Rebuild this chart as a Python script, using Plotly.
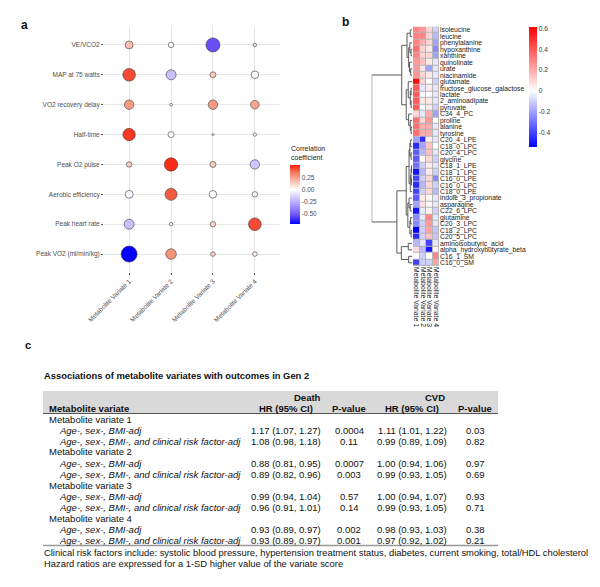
import plotly.graph_objects as go

# page body adds an 8px offset; figure is sized so that the visible window is 600x587
OFF = 8
W, H = 600 - OFF, 587 - OFF
FONT = "Liberation Sans, Arial, sans-serif"


def fx(px):
    return (px - OFF) / W


def fy(py):
    return 1 - (py - OFF) / H


# ---------------- Panel a data ----------------
outcomes = ["VE/VCO2", "MAP at 75 watts", "VO2 recovery delay", "Half-time",
            "Peak O2 pulse", "Aerobic efficiency", "Peak heart rate", "Peak VO2 (ml/min/kg)"]
variates_a = ["Metabolite Variate 1", "Metabolite Variate 2",
              "Metabolite Variate 3", "Metabolite Variate 4"]
corr_mv1 = [0.18, 0.45, 0.28, 0.48, 0.15, -0.02, -0.20, -0.73]
corr_mv2 = [0.02, -0.20, 0.02, 0.00, 0.50, 0.42, 0.02, 0.30]
corr_mv3 = [-0.55, 0.15, 0.28, 0.00, 0.15, 0.00, 0.12, 0.12]
corr_mv4 = [0.08, 0.00, 0.25, 0.03, -0.18, 0.03, 0.45, 0.05]
signif_mv1 = [2.00, 3.15, 2.35, 3.10, 1.35, 2.00, 2.50, 4.00]
signif_mv2 = [1.40, 2.50, 0.65, 1.50, 3.35, 3.00, 0.85, 2.65]
signif_mv3 = [3.50, 1.50, 2.35, 0.50, 1.50, 1.90, 1.35, 1.15]
signif_mv4 = [0.85, 1.90, 2.15, 0.85, 2.35, 1.35, 3.15, 1.15]

# ---------------- Panel b data ----------------
metabolites = ["isoleucine", "leucine", "phenylalanine", "hypoxanthine", "xanthine",
               "quinolinate", "urate", "niacinamide", "glutamate",
               "fructose_glucose_galactose", "lactate", "2_aminoadipate", "pyruvate",
               "C34_4_PC", "proline", "alanine", "tyrosine", "C20_4_LPE", "C18_0_LPC",
               "C20_4_LPC", "glycine", "C18_1_LPE", "C18_1_LPC", "C16_0_LPE", "C16_0_LPC",
               "C18_0_LPE", "indole_3_propionate", "asparagine", "C22_6_LPC", "glutamine",
               "C20_3_LPC", "C18_2_LPC", "C20_5_LPC", "aminoisobutyric_acid",
               "alpha_hydroxybutyrate_beta", "C16_1_SM", "C16_0_SM"]
variates_b = ["Metabolite Variate 1", "Metabolite Variate 2",
              "Metabolite Variate 3", "Metabolite Variate 4"]
hm_mv1 = [0.30, 0.30, 0.30, 0.35, 0.30, 0.25, 0.25, 0.25, 0.60, 0.40, 0.40, 0.40, 0.40,
          0.10, 0.35, 0.35, 0.35, -0.20, -0.45, -0.35, -0.35, -0.30, -0.50, -0.40, -0.45,
          -0.40, -0.35, -0.20, -0.50, -0.25, -0.25, -0.55, -0.45, -0.15, 0.08, 0.00, -0.40]
hm_mv2 = [0.25, 0.30, 0.20, 0.10, 0.10, 0.15, 0.05, 0.10, 0.10, -0.05, 0.00, 0.05, 0.00,
          -0.05, 0.10, 0.20, 0.20, -0.45, -0.20, -0.15, 0.00, -0.10, -0.15, -0.10, -0.15,
          -0.10, 0.05, 0.08, -0.05, -0.05, -0.10, -0.10, -0.10, -0.05, -0.15, -0.10, -0.10]
hm_mv3 = [0.10, 0.10, 0.10, 0.05, 0.10, 0.05, -0.20, 0.05, 0.00, 0.05, 0.00, 0.05, 0.05,
          0.20, 0.25, 0.20, 0.20, 0.05, 0.15, 0.15, 0.10, 0.05, 0.05, 0.10, 0.10,
          0.10, 0.02, 0.02, 0.02, 0.30, 0.25, 0.22, 0.15, -0.40, -0.50, 0.00, -0.10]
hm_mv4 = [-0.10, -0.15, -0.20, -0.25, -0.20, -0.05, -0.05, -0.05, -0.10, -0.05, -0.05, -0.05,
          -0.10, -0.20, 0.00, -0.05, -0.05, -0.05, 0.00, -0.05, -0.10, -0.05, -0.10, -0.25,
          -0.10, -0.15, -0.05, -0.05, -0.10, -0.05, -0.05, -0.12, -0.12, -0.05, 0.03, 0.30, 0.22]

# row dendrogram (leaf = row index, node = (left, right, height))
tree_top = (
    ((0, 1, 0.05), ((2, (3, 4, 0.03), 0.06), (5, (6, 7, 0.04), 0.07), 0.09), 0.13),
    ((8, ((9, 10, 0.03), (11, 12, 0.03), 0.05), 0.10),
     (13, (14, (15, 16, 0.03), 0.05), 0.09), 0.15),
    0.26)
tree_bottom = (
    ((((17, 18, 0.04), (19, 20, 0.03), 0.06),
      (((21, 22, 0.02), (23, 24, 0.02), 0.03), 25, 0.05), 0.08),
     ((26, (27, 28, 0.05), 0.08), ((29, 30, 0.04), (31, 32, 0.03), 0.06), 0.11),
     0.15),
    ((33, 34, 0.10), (35, 36, 0.09), 0.27),
    0.38)
tree_root = (tree_top, tree_bottom, 1.0)

# ---------------- Panel c data ----------------
table_title = "Associations of metabolite variates with outcomes in Gen 2"
variate_rows = ["Metabolite variate 1", "Metabolite variate 2",
                "Metabolite variate 3", "Metabolite variate 4"]
model_rows = ["Age-, sex-, BMI-adj", "Age-, sex-, BMI-, and clinical risk factor-adj"]
death_hr = [["1.17 (1.07, 1.27)", "1.08 (0.98, 1.18)"],
            ["0.88 (0.81, 0.95)", "0.89 (0.82, 0.96)"],
            ["0.99 (0.94, 1.04)", "0.96 (0.91, 1.01)"],
            ["0.93 (0.89, 0.97)", "0.93 (0.89, 0.97)"]]
death_p = [["0.0004", "0.11"], ["0.0007", "0.003"], ["0.57", "0.14"], ["0.002", "0.001"]]
cvd_hr = [["1.11 (1.01, 1.22)", "0.99 (0.89, 1.09)"],
          ["1.00 (0.94, 1.06)", "0.99 (0.93, 1.05)"],
          ["1.00 (0.94, 1.07)", "0.99 (0.93, 1.05)"],
          ["0.98 (0.93, 1.03)", "0.97 (0.92, 1.02)"]]
cvd_p = [["0.03", "0.82"], ["0.97", "0.69"], ["0.93", "0.71"], ["0.38", "0.21"]]
footnotes = ["Clinical risk factors include: systolic blood pressure, hypertension treatment "
             "status, diabetes, current smoking, total/HDL cholesterol",
             "Hazard ratios are expressed for a 1-SD higher value of the variate score"]

fig = go.Figure()

# ---------------- Panel a: bubble chart ----------------
corr_cols = [corr_mv1, corr_mv2, corr_mv3, corr_mv4]
sig_cols = [signif_mv1, signif_mv2, signif_mv3, signif_mv4]
bx, by, bc, bs = [], [], [], []
for ci in range(len(variates_a)):
    for ri in range(len(outcomes)):
        bx.append(ci)
        by.append(ri)
        bc.append(corr_cols[ci][ri])
        bs.append(sig_cols[ci][ri])
fig.add_trace(go.Scatter(
    x=bx, y=by, mode="markers", xaxis="x", yaxis="y",
    marker=dict(color=bc, coloraxis="coloraxis", size=[4 * s for s in bs],
                sizemode="diameter", opacity=1,
                line=dict(color="#3a3a3a", width=0.6)),
    hoverinfo="skip", cliponaxis=False))

# ---------------- Panel b: heatmap ----------------
hm_cols = [hm_mv1, hm_mv2, hm_mv3, hm_mv4]
z = [[hm_cols[c][r] for c in range(4)] for r in range(len(metabolites))]
fig.add_trace(go.Heatmap(
    z=z, x=list(range(4)), y=list(range(len(metabolites))),
    xaxis="x2", yaxis="y2", coloraxis="coloraxis2", xgap=1, ygap=1,
    hoverinfo="skip"))

# dendrogram
seg_x, seg_y = [], []


def walk(node):
    if isinstance(node, int):
        return float(node), 0.0
    left, right, h = node
    yl, hl = walk(left)
    yr, hr = walk(right)
    seg_x.extend([hl, h, h, hr, None])
    seg_y.extend([yl, yl, yr, yr, None])
    return (yl + yr) / 2, h


walk(tree_root)
fig.add_trace(go.Scatter(x=seg_x, y=seg_y, mode="lines", xaxis="x3", yaxis="y3",
                         line=dict(color="#4a4a4a", width=0.9), hoverinfo="skip",
                         cliponaxis=False))

# ---------------- colour scales ----------------
amin, amax = -0.73, 0.53
wa = -amin / (amax - amin)
blue_side = [(1.0, "#0000ff"), (0.75, "#6a4ff6"), (0.5, "#9f8cfb"), (0.25, "#d0c6fe"), (0.0, "#ffffff")]
red_side = [(0.25, "#fcd2c6"), (0.5, "#f7a08a"), (0.75, "#f06a4f"), (1.0, "#ff1a0a")]
cs_a = [[wa * (1 - t), c] for t, c in blue_side] + [[wa + (1 - wa) * t, c] for t, c in red_side]

bmin, bmax = -0.54, 0.62
wb = -bmin / (bmax - bmin)
cs_b = [[0, "#0000ff"], [wb, "#ffffff"], [1, "#ff0000"]]

# ---------------- layout ----------------
grey_txt = "#4d4d4d"
layout = dict(
    template="none",
    width=W, height=H, autosize=False, margin=dict(l=0, r=0, t=0, b=0, pad=0),
    paper_bgcolor="white", plot_bgcolor="white", showlegend=False,
    font=dict(family=FONT, color="#222"),
    xaxis=dict(domain=[fx(104), fx(280)], range=[-0.6, 3.6], anchor="y", automargin=False,
               tickvals=list(range(4)), ticktext=variates_a, tickangle=-45,
               tickfont=dict(size=6.5, color=grey_txt), showgrid=True,
               gridcolor="#e6e6e6", gridwidth=0.8, zeroline=False, showline=False,
               ticks="outside", ticklen=2, tickcolor="#555", tickwidth=0.6),
    yaxis=dict(domain=[fy(272), fy(27)], range=[7.6, -0.6], anchor="x", automargin=False,
               tickvals=list(range(len(outcomes))), ticktext=outcomes,
               tickfont=dict(size=6.5, color=grey_txt), showgrid=True,
               gridcolor="#e6e6e6", gridwidth=0.8, zeroline=False, showline=False,
               ticks="outside", ticklen=2, tickcolor="#555", tickwidth=0.6),
    xaxis2=dict(domain=[fx(413), fx(439)], range=[-0.5, 3.5], anchor="y2", automargin=False,
                tickvals=list(range(4)), ticktext=variates_b, tickangle=90,
                tickfont=dict(size=6.8, color="#222"), showgrid=False, zeroline=False,
                showline=False, ticks=""),
    yaxis2=dict(domain=[fy(266), fy(26.7)], range=[len(metabolites) - 0.5, -0.5],
                anchor="x2", side="right", tickvals=list(range(len(metabolites))),
                automargin=False,
                ticktext=metabolites, tickfont=dict(size=6.8, color="#222"),
                showgrid=False, zeroline=False, showline=False, ticks=""),
    xaxis3=dict(domain=[fx(371.7), fx(412.3)], range=[1.0, 0.0], anchor="y3",
                visible=False, automargin=False),
    yaxis3=dict(domain=[fy(266), fy(26.7)], range=[len(metabolites) - 0.5, -0.5],
                anchor="x3", visible=False, automargin=False),
    coloraxis=dict(colorscale=cs_a, cmin=amin, cmax=amax,
                   colorbar=dict(x=fx(290), xanchor="left", y=fy(224), yanchor="bottom",
                                 len=59, lenmode="pixels", thickness=10, xpad=0, ypad=0,
                                 tickvals=[-0.5, -0.25, 0, 0.25],
                                 ticktext=["-0.50", "-0.25", "0.00", "0.25"],
                                 tickfont=dict(size=6.5, color=grey_txt), ticks="",
                                 outlinewidth=0)),
    coloraxis2=dict(colorscale=cs_b, cmin=bmin, cmax=bmax,
                    colorbar=dict(x=fx(529.3), xanchor="left", y=fy(146.7), yanchor="bottom",
                                  len=120, lenmode="pixels", thickness=8, xpad=0, ypad=0,
                                  tickvals=[-0.4, -0.2, 0, 0.2, 0.4, 0.6],
                                  ticktext=["-0.4", "-0.2", "0", "0.2", "0.4", "0.6"],
                                  tickfont=dict(size=6.5, color="#333"), ticks="",
                                  outlinewidth=0)),
)

annotations = []
shapes = []


def txt(x, y, s, size=9.5, anchor="left", color="#111", bold=False, italic=False):
    if bold:
        s = "<b>" + s + "</b>"
    if italic:
        s = "<i>" + s + "</i>"
    annotations.append(dict(x=fx(x), y=fy(y), xref="paper", yref="paper", text=s,
                            showarrow=False, xanchor=anchor, yanchor="middle",
                            borderpad=0, font=dict(size=size, color=color, family=FONT)))


# panel labels
txt(20, 25, "a", size=12, bold=True)
txt(341, 22, "b", size=12, bold=True)
txt(24, 345, "c", size=11, bold=True)

# legend title panel a
annotations.append(dict(x=fx(290), y=fy(162), xref="paper", yref="paper",
                        text="Correlation<br>coefficient", showarrow=False,
                        xanchor="left", yanchor="bottom", align="left", borderpad=0,
                        font=dict(size=7, color="#222", family=FONT)))

# heatmap cell border backdrop
shapes.append(dict(type="rect", xref="x2", yref="y2", x0=-0.5, x1=3.5, y0=-0.5,
                   y1=len(metabolites) - 0.5, fillcolor="#b5b5b5",
                   line=dict(color="#b5b5b5", width=0.8), layer="below"))

# ---------------- Panel c: table ----------------
tab_l, tab_r = 43, 498
x_var, x_sub = 48, 58
c_dhr, c_dp, c_chr, c_cp = 286, 349, 412, 475

txt(tab_l, 375, table_title, size=9.4, bold=True)
shapes.append(dict(type="rect", xref="paper", yref="paper", x0=fx(tab_l), x1=fx(tab_r),
                   y0=fy(413), y1=fy(391), fillcolor="#d9d9d9", line=dict(width=0),
                   layer="below"))
shapes.append(dict(type="line", xref="paper", yref="paper", x0=fx(tab_l), x1=fx(tab_r),
                   y0=fy(413.5), y1=fy(413.5), line=dict(color="#555", width=1)))
txt(322, 397, "Death", bold=True, anchor="right")
txt(446, 397, "CVD", bold=True, anchor="right")
txt(x_var, 408, "Metabolite variate", bold=True)
txt(c_dhr, 408, "HR (95% CI)", bold=True, anchor="center")
txt(c_dp, 408, "P-value", bold=True, anchor="center")
txt(c_chr, 408, "HR (95% CI)", bold=True, anchor="center")
txt(c_cp, 408, "P-value", bold=True, anchor="center")

row_y0, row_step = 419, 11
row = 0
for vi, vname in enumerate(variate_rows):
    txt(x_var, row_y0 + row * row_step, vname)
    row += 1
    for mi, mname in enumerate(model_rows):
        yy = row_y0 + row * row_step
        txt(x_sub, yy, mname, italic=True)
        txt(c_dhr, yy, death_hr[vi][mi], anchor="center")
        txt(c_dp, yy, death_p[vi][mi], anchor="center")
        txt(c_chr, yy, cvd_hr[vi][mi], anchor="center")
        txt(c_cp, yy, cvd_p[vi][mi], anchor="center")
        row += 1

bottom_y = row_y0 + (row - 1) * row_step + 5.5
shapes.append(dict(type="line", xref="paper", yref="paper", x0=fx(tab_l), x1=fx(tab_r),
                   y0=fy(bottom_y), y1=fy(bottom_y), line=dict(color="#999", width=1.5)))
txt(tab_l, bottom_y + 6.5, footnotes[0], size=9.4)
txt(tab_l, bottom_y + 17.5, footnotes[1], size=9.4)

layout["annotations"] = annotations
layout["shapes"] = shapes
fig.update_layout(**layout)
fig.write_html("out.html")
